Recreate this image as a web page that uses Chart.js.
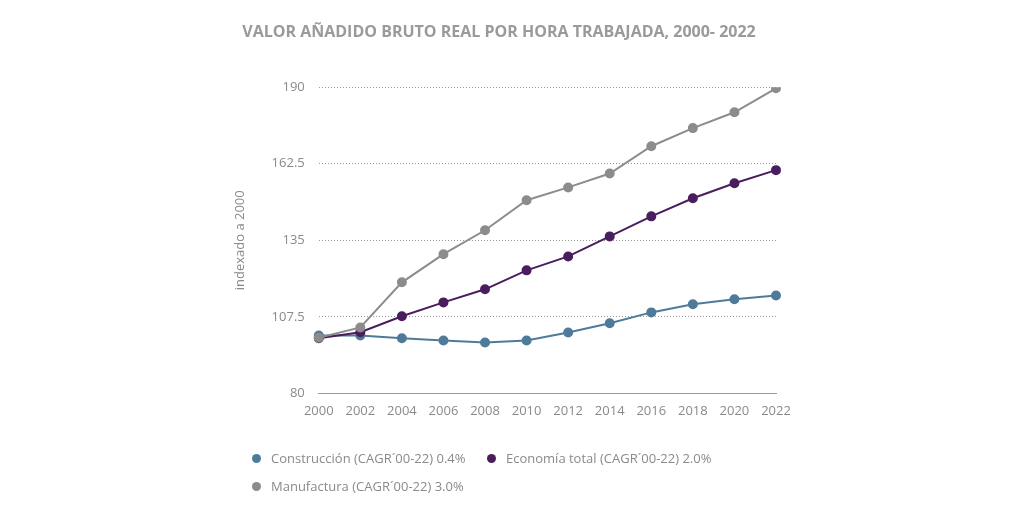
<!DOCTYPE html>
<html><head><meta charset="utf-8">
<script src="https://cdn.jsdelivr.net/npm/chart.js@4"></script>
<style>
body{margin:0;background:#fff;font-family:"Open Sans",sans-serif}
#w{position:relative;width:1024px;height:512px}
.lg{position:absolute;font-size:13px;color:#8a8a8a;display:flex;align-items:center}
.dot{width:9px;height:9px;border-radius:50%;display:inline-block;margin-right:10px}
</style></head><body>
<div id="w"><canvas id="c" width="1024" height="512"></canvas>
<div class="lg" style="left:252px;top:449px"><span class="dot" style="background:#4f7b9a"></span>Construcción (CAGR´00-22) 0.4%</div>
<div class="lg" style="left:487px;top:449px"><span class="dot" style="background:#4a1e5e"></span>Economía total (CAGR´00-22) 2.0%</div>
<div class="lg" style="left:252px;top:477px"><span class="dot" style="background:#8c8c8c"></span>Manufactura (CAGR´00-22) 3.0%</div>
</div>
<script>
const years=['2000','2002','2004','2006','2008','2010','2012','2014','2016','2018','2020','2022'];
const construccion=[100.8,100.8,99.8,99,98.3,99,101.9,105.2,109.1,112,113.8,115.2];
const economia=[99.8,102,107.7,112.7,117.4,124.2,129.2,136.4,143.6,150.1,155.5,160.2];
const manufactura=[100,103.7,119.9,130,138.6,149.4,154,159,168.8,175.3,181,189.6];
const yTicks=[80,107.5,135,162.5,190];
const ds=(d,c)=>({data:d,borderColor:c,backgroundColor:c,borderWidth:2,pointRadius:4,pointHoverRadius:4,tension:0});
new Chart(document.getElementById('c'),{type:'line',
data:{labels:years,datasets:[ds(manufactura,'#8c8c8c'),ds(economia,'#4a1e5e'),ds(construccion,'#4f7b9a')]},
options:{responsive:false,animation:false,
layout:{padding:{left:222,right:248,top:10,bottom:91}},
plugins:{legend:{display:false},tooltip:{enabled:false},
title:{display:true,text:'VALOR AÑADIDO BRUTO REAL POR HORA TRABAJADA, 2000- 2022',color:'#9a9a9a',font:{family:'"Open Sans"',size:16,weight:'bold'},padding:{top:13,bottom:45}}},
scales:{
x:{offset:false,grid:{display:false,drawTicks:true},border:{display:true,color:'#999'},
ticks:{color:'#8a8a8a',font:{family:'"Open Sans"',size:13},maxRotation:0,padding:2}},
y:{min:80,max:190,afterBuildTicks:a=>{a.ticks=yTicks.map(v=>({value:v}))},
grid:{color:'#999',lineWidth:1,drawTicks:false},border:{display:false,dash:[1,2]},
ticks:{color:'#8a8a8a',font:{family:'"Open Sans"',size:13},padding:14},
title:{display:true,text:'indexado a 2000',color:'#8a8a8a',font:{family:'"Open Sans"',size:13},padding:10}}
}}});
</script></body></html>
